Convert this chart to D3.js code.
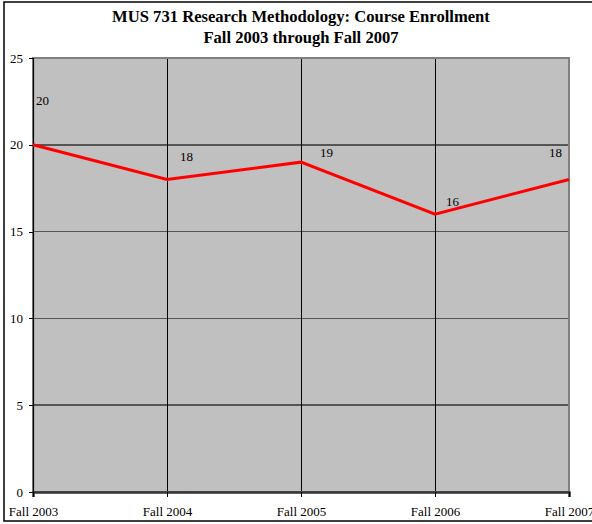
<!DOCTYPE html>
<html>
<head>
<meta charset="utf-8">
<script src="https://cdn.jsdelivr.net/npm/d3@7"></script>
<style>
  body { margin: 0; background: #fff; }
  svg { display: block; font-family: "Liberation Serif", "Times New Roman", serif; }
</style>
</head>
<body>
<div id="chart"></div>
<script>
// Daten
const semesters = ["Fall 2003", "Fall 2004", "Fall 2005", "Fall 2006", "Fall 2007"];
const enrollment = [20, 18, 19, 16, 18];
const yTicks = [0, 5, 10, 15, 20, 25];
const titleLines = ["MUS 731 Research Methodology: Course Enrollment", "Fall 2003 through Fall 2007"];

// Beschriftungen sitzen wie im Original etwas versetzt
const labelOffsets = [[3, -40, "start"], [13, -19, "start"], [19, -5, "start"], [11, -8, "start"], [-7, -23, "end"]];

const W = 592, H = 524;
const plot = {left: 33, right: 569, top: 58, bottom: 492};

const svg = d3.select("#chart").append("svg")
    .attr("width", W)
    .attr("height", H);

// Rahmen außen
svg.append("rect")
    .attr("x", 4).attr("y", 2)
    .attr("width", W + 10).attr("height", 519)
    .attr("fill", "#fff")
    .attr("stroke", "#000")
    .attr("stroke-width", 1.5);

// Titel
svg.selectAll(".title").data(titleLines).enter().append("text")
    .attr("x", 301)
    .attr("y", (d, i) => 22 + i * 21)
    .attr("text-anchor", "middle")
    .attr("font-size", 16.6)
    .attr("font-weight", "bold")
    .text(d => d);

const x = d3.scalePoint().domain(semesters).range([plot.left, plot.right]);
const y = d3.scaleLinear().domain([0, 25]).range([plot.bottom, plot.top]);

// Plotfläche
svg.append("rect")
    .attr("x", plot.left).attr("y", plot.top)
    .attr("width", plot.right - plot.left).attr("height", plot.bottom - plot.top)
    .attr("fill", "#c0c0c0");

// horizontale Gitterlinien
svg.selectAll(".hgrid").data(yTicks.slice(1, -1)).enter().append("line")
    .attr("x1", plot.left).attr("x2", plot.right)
    .attr("y1", d => y(d)).attr("y2", d => y(d))
    .attr("stroke", "#555")
    .attr("stroke-width", 1.5)
    .attr("shape-rendering", "crispEdges");

// vertikale Gitterlinien
svg.selectAll(".vgrid").data(semesters.slice(1, -1)).enter().append("line")
    .attr("x1", d => x(d) + 0.5).attr("x2", d => x(d) + 0.5)
    .attr("y1", plot.top).attr("y2", plot.bottom)
    .attr("stroke", "#000")
    .attr("stroke-width", 1)
    .attr("shape-rendering", "crispEdges");

// Rand der Plotfläche
svg.append("rect")
    .attr("x", plot.left).attr("y", plot.top)
    .attr("width", plot.right - plot.left).attr("height", plot.bottom - plot.top)
    .attr("fill", "none")
    .attr("stroke", "#808080")
    .attr("stroke-width", 2);

// Achsen
const yAxis = svg.append("g")
    .attr("transform", `translate(${plot.left},0)`)
    .call(d3.axisLeft(y).tickValues(yTicks).tickSize(4).tickPadding(6));
const xAxis = svg.append("g")
    .attr("transform", `translate(0,${plot.bottom})`)
    .call(d3.axisBottom(x).tickSize(5).tickPadding(10));

[yAxis, xAxis].forEach(g => {
    g.select(".domain").attr("stroke", "#000").attr("stroke-width", 1.2);
    g.selectAll(".tick line").attr("stroke", "#000").attr("shape-rendering", "crispEdges");
    g.selectAll("text")
        .attr("font-family", "Liberation Serif, Times New Roman, serif")
        .attr("font-size", 13)
        .attr("fill", "#000");
});
xAxis.select(".domain").attr("stroke", "#333").attr("stroke-width", 2.5);

// Linie
const line = d3.line()
    .x((d, i) => x(semesters[i]))
    .y(d => y(d));

svg.append("path")
    .datum(enrollment)
    .attr("d", line)
    .attr("fill", "none")
    .attr("stroke", "#ff0000")
    .attr("stroke-width", 3)
    .attr("stroke-linejoin", "miter");

// Datenbeschriftung
svg.selectAll(".lbl").data(enrollment).enter().append("text")
    .attr("x", (d, i) => x(semesters[i]) + labelOffsets[i][0])
    .attr("y", (d, i) => y(d) + labelOffsets[i][1])
    .attr("text-anchor", (d, i) => labelOffsets[i][2])
    .attr("font-size", 13)
    .attr("fill", "#000")
    .text(d => d);
</script>
</body>
</html>
